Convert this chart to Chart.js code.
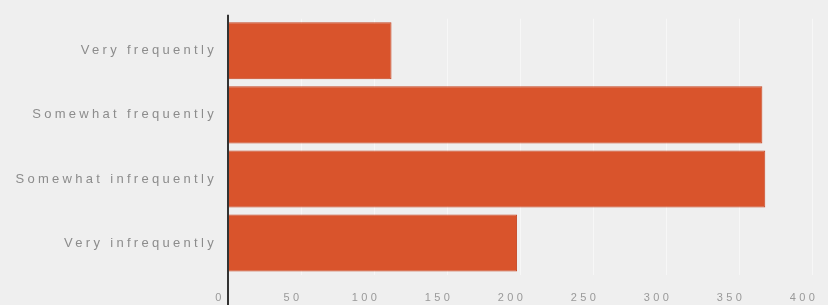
<!DOCTYPE html>
<html><head><meta charset="utf-8">
<script src="https://cdn.jsdelivr.net/npm/chart.js@4.4.0/dist/chart.umd.min.js"></script>
<style>html,body{margin:0;padding:0;background:#efefef;}#wrap{width:828px;height:305px;position:relative;}</style>
</head><body><div id="wrap"><canvas id="c" width="828" height="305"></canvas></div>
<script>
const categories = ["Very frequently", "Somewhat frequently", "Somewhat infrequently", "Very infrequently"];
const responses = [112, 366, 368, 198];
const xTicks = [0, 50, 100, 150, 200, 250, 300, 350, 400];

const spacing = {
  id: 'spacing',
  beforeUpdate(chart) { chart.ctx.letterSpacing = '3.3px'; },
  beforeDraw(chart) { chart.ctx.letterSpacing = '3.3px'; },
  afterDraw(chart) {
    const ctx = chart.ctx, xs = chart.scales.x, px = Math.round(xs.getPixelForValue(0));
    ctx.save();
    ctx.strokeStyle = '#333'; ctx.lineWidth = 2;
    ctx.beginPath(); ctx.moveTo(px, chart.chartArea.top - 4); ctx.lineTo(px, chart.height); ctx.stroke();
    ctx.restore();
  }
};

new Chart(document.getElementById('c'), {
  type: 'bar',
  plugins: [spacing],
  data: { labels: categories, datasets: [{ data: responses, backgroundColor: '#d9542c', borderColor: '#c64522', borderWidth: 1, barPercentage: 0.89, categoryPercentage: 1.0 }] },
  options: {
    indexAxis: 'y', responsive: false, animation: false, devicePixelRatio: 1,
    layout: { padding: { top: 17, right: 16, left: 0, bottom: 0 } },
    plugins: { legend: { display: false }, tooltip: { enabled: false } },
    scales: {
      x: {
        min: 0, max: 400,
        afterBuildTicks: (s) => { s.ticks = xTicks.map(v => ({ value: v })); },
        afterFit: (s) => { s.height = 30; s.paddingRight = 0; s.paddingLeft = 0; },
        grid: { color: '#f7f7f7', lineWidth: 1, drawTicks: false },
        border: { display: false },
        ticks: { color: '#999', font: { family: 'Liberation Sans', size: 11 }, padding: 16, labelOffset: -8, maxRotation: 0, minRotation: 0, autoSkip: false }
      },
      y: {
        afterFit: (s) => { s.width = 228; },
        grid: { display: false, drawTicks: false },
        border: { display: false },
        ticks: { color: '#8c8c8c', font: { family: 'Liberation Sans', size: 13 }, padding: 11 }
      }
    }
  }
});
</script></body></html>
